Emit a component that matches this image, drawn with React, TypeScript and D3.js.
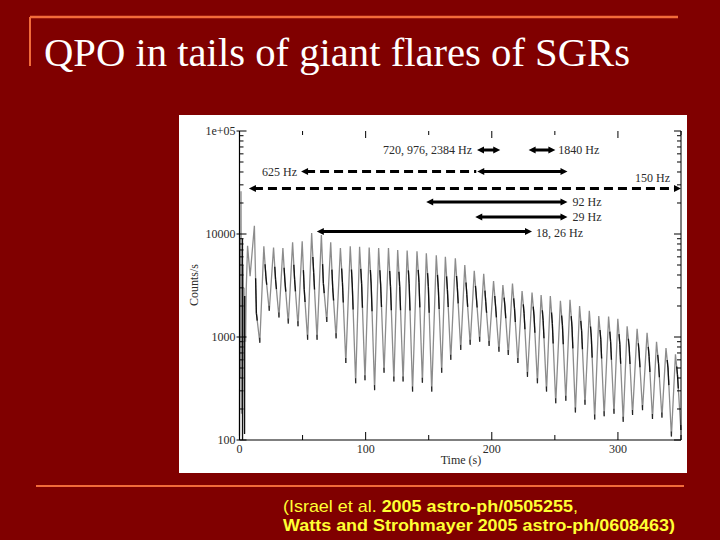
import React from 'react';
import * as d3 from 'd3';

const titleText = 'QPO in tails of giant flares of SGRs';
const citeLine1Regular = '(Israel et al. ';
const citeLine1Bold = '2005 astro-ph/0505255';
const citeLine1Tail = ',';
const citeLine2 = 'Watts and Strohmayer 2005 astro-ph/0608463)';

const yTickValues = [100, 1000, 10000, 100000];
const yTickLabels = ['100', '1000', '10000', '1e+05'];
const xTickValues = [0, 100, 200, 300];
const xTickLabels = ['0', '100', '200', '300'];
const xMinorTicks = [50, 150, 250, 350];
const xTitle = 'Time (s)';
const yTitle = 'Counts/s';

// initial spike region (t < 10 s)
const flareTimes = [0, 0.4, 0.8, 1.2, 1.6, 2.0, 2.4, 2.8, 3.2, 3.6, 4.0, 4.4, 4.8, 5.3, 6.4, 8.4];
const flareCounts = [110, 9000, 400, 26000, 180, 7000, 102, 5000, 600, 3000, 115, 2500, 900, 2800, 7700, 3900];

// pulse peaks
const peakTimes = [11.8, 19.3, 27.0, 34.4, 42.1, 49.7, 57.2, 64.9, 72.3, 80.0, 87.8, 95.2, 102.8, 110.3, 118.1,
  125.4, 132.9, 140.7, 148.1, 156.0, 163.2, 171.1, 178.6, 186.1, 193.6, 201.4, 208.8, 216.4, 224.0, 231.9,
  239.1, 246.4, 254.4, 262.0, 269.6, 277.3, 284.8, 292.6, 299.9, 307.3, 315.2, 323.1, 330.6, 338.1, 345.6];
const peakCounts = [12000, 7600, 7400, 7300, 8300, 8500, 10200, 9800, 8300, 7300, 7600, 7500, 7400, 7300, 7300,
  7000, 6900, 6800, 6500, 6200, 6000, 5800, 5000, 4400, 4100, 3500, 3200, 3300, 2800, 2700,
  2550, 2500, 2250, 2300, 2000, 1800, 1600, 1580, 1500, 1270, 1200, 1100, 900, 780, 680];

// shoulders after each peak
const shoulderTimes = [13.4, 20.9, 28.6, 36.0, 43.7, 51.3, 58.8, 66.5, 73.9, 81.6, 89.4, 96.8, 104.4, 111.9, 119.7,
  127.0, 134.5, 142.3, 149.7, 157.6, 164.8, 172.7, 180.2, 187.7, 195.2, 203.0, 210.4, 218.0, 225.6, 233.5,
  240.7, 248.0, 256.0, 263.6, 271.2, 278.9, 286.4, 294.2, 301.5, 308.9, 316.8, 324.7, 332.2, 339.7, 347.2];
const shoulderCounts = [1700, 3900, 3600, 3500, 3600, 2900, 4200, 3300, 3000, 3400, 3200, 3300, 3200, 3200, 3100,
  3100, 3300, 3400, 3100, 3000, 2900, 3000, 2600, 2500, 2200, 2000, 2000, 1900, 1700, 1600,
  1450, 1350, 1300, 1250, 1150, 1000, 950, 900, 850, 800, 700, 650, 550, 500, 430];

// troughs between pulses
const troughTimes = [16.1, 23.6, 31.3, 38.7, 46.4, 54.0, 61.5, 69.2, 76.6, 84.3, 92.1, 99.5, 107.1, 114.6, 122.4,
  129.7, 137.2, 145.0, 152.4, 160.3, 167.5, 175.4, 182.9, 190.4, 197.9, 205.7, 213.1, 220.7, 228.3, 236.2,
  243.4, 250.7, 258.7, 266.3, 273.9, 281.6, 289.1, 296.9, 304.2, 311.6, 319.5, 327.4, 334.9, 342.4, 349.9];
const troughCounts = [880, 1800, 1550, 1350, 1270, 940, 940, 1400, 970, 560, 355, 380, 305, 450, 370,
  370, 295, 360, 295, 450, 600, 750, 840, 900, 820, 720, 670, 560, 410, 355,
  295, 227, 240, 185, 220, 158, 170, 180, 150, 175, 195, 160, 165, 108, 125];

// QPO detection intervals (s)
const qpoLabels = ['720, 976, 2384 Hz', '1840 Hz', '625 Hz', '625 Hz b', '150 Hz', '92 Hz', '29 Hz', '18, 26 Hz'];
const qpoStart = [188.3, 229.2, 48.8, 188.5, 7.5, 148.0, 186.9, 61.3];
const qpoEnd = [206.7, 250.4, 187.7, 260.0, 350.0, 260.0, 260.0, 231.9];

const x = d3.scaleLinear().domain([0, 350]).range([239.5, 681]);
const y = d3.scaleLog().domain([100, 1e5]).range([440, 131]);

function buildSeries(): [number, number][] {
  const pts: [number, number][] = [];
  flareTimes.forEach((t, i) => pts.push([t, flareCounts[i]]));
  peakTimes.forEach((t, i) => {
    pts.push([t, peakCounts[i]]);
    pts.push([shoulderTimes[i], shoulderCounts[i]]);
    pts.push([troughTimes[i], troughCounts[i]]);
  });
  return pts;
}

const FONT_SERIF = '"Liberation Serif", "DejaVu Serif", serif';
const FONT_SANS = '"Liberation Sans", Arial, sans-serif';
const TXT = '#2b2b2b';

function Head({ px, py, dir }: { px: number; py: number; dir: number }) {
  const L = 7, h = 3.6;
  const pts = `${px},${py} ${px - dir * L},${py - h} ${px - dir * L},${py + h}`;
  return <polygon points={pts} fill="#000" />;
}

function Arrow({ i, row, dashed, left = true, right = true }: { i: number; row: number; dashed?: boolean; left?: boolean; right?: boolean }) {
  const x1 = x(qpoStart[i]);
  const x2 = x(qpoEnd[i]);
  return (
    <g>
      <line x1={x1 + (left ? 5 : 0)} x2={x2 - (right ? 5 : 0)} y1={row} y2={row} stroke="#000" strokeWidth={3}
        strokeDasharray={dashed ? '9 5' : undefined} />
      {left && <Head px={x1} py={row} dir={-1} />}
      {right && <Head px={x2} py={row} dir={1} />}
    </g>
  );
}

export default function App() {
  const series = buildSeries();
  const line = d3.line<[number, number]>().x(d => x(d[0])).y(d => y(d[1]));
  const minorY: number[] = [];
  for (let dec = 100; dec < 1e5; dec *= 10) {
    for (let m = 2; m <= 9; m++) minorY.push(dec * m);
  }
  const xL = x(0), xR = x(350), yB = y(100), yT = y(1e5);

  return (
    <svg width={720} height={540} style={{ position: 'absolute', left: 0, top: 0, display: 'block' }}>
      <rect x={0} y={0} width={720} height={540} fill="#800000" />
      <line x1={30} y1={17} x2={678} y2={17} stroke="#f26b3a" strokeWidth={2.5} />
      <line x1={30} y1={17} x2={30} y2={66} stroke="#f26b3a" strokeWidth={2} />
      <text x={44} y={66} fill="#ffffff" fontFamily={FONT_SERIF} fontSize={40} textLength={586} lengthAdjust="spacingAndGlyphs">{titleText}</text>

      <rect x={179} y={115} width={508} height={358} fill="#ffffff" />

      {/* light curve */}
      <path d={line(series) || ''} fill="none" stroke="#8c8c8c" strokeWidth={1.3} strokeLinejoin="miter" />
      {peakTimes.map((t, i) => {
        const sx = x(shoulderTimes[i]), sy = y(shoulderCounts[i]);
        const px = x(t), py = y(peakCounts[i]);
        const tx = x(troughTimes[i]), ty = y(troughCounts[i]);
        return (
          <g key={'m' + i}>
            <line x1={px + (sx - px) * 0.6} y1={py + (sy - py) * 0.6} x2={sx} y2={sy} stroke="#111" strokeWidth={1.3} />
            <line x1={sx} y1={sy} x2={sx + (tx - sx) * 0.25} y2={sy + (ty - sy) * 0.25} stroke="#111" strokeWidth={1.3} />
            <line x1={tx + (px - tx) * 0.02} y1={ty - 5} x2={tx} y2={ty} stroke="#222" strokeWidth={1.1} />
          </g>
        );
      })}
      <line x1={x(2.4)} x2={x(2.4)} y1={y(9000)} y2={yB} stroke="#111" strokeWidth={1.2} />
      <line x1={x(4.0)} x2={x(4.0)} y1={y(2500)} y2={yB - 6} stroke="#111" strokeWidth={1.2} />

      {/* axes */}
      <line x1={xL} x2={xL} y1={yT} y2={yB} stroke="#000" strokeWidth={1.2} />
      <line x1={xR} x2={xR} y1={yT} y2={yB} stroke="#000" strokeWidth={1} />
      <line x1={xL} x2={xR} y1={yB} y2={yB} stroke="#000" strokeWidth={1.2} />
      {yTickValues.map((v, i) => (
        <g key={'yt' + i}>
          <line x1={xL - 3} x2={xL + 7} y1={y(v)} y2={y(v)} stroke="#000" strokeWidth={1} />
          <line x1={xR - 7} x2={xR} y1={y(v)} y2={y(v)} stroke="#000" strokeWidth={1} />
          <text x={xL - 4} y={y(v)} dy="0.35em" textAnchor="end" fontFamily={FONT_SERIF} fontSize={12} fill={TXT}>{yTickLabels[i]}</text>
        </g>
      ))}
      {minorY.map((v, i) => (
        <g key={'ym' + i}>
          <line x1={xL} x2={xL + 4} y1={y(v)} y2={y(v)} stroke="#000" strokeWidth={1} />
          <line x1={xR - 4} x2={xR} y1={y(v)} y2={y(v)} stroke="#000" strokeWidth={1} />
        </g>
      ))}
      {xTickValues.map((v, i) => (
        <g key={'xt' + i}>
          <line x1={x(v)} x2={x(v)} y1={yB} y2={yB - 8} stroke="#000" strokeWidth={1} />
          <line x1={x(v)} x2={x(v)} y1={yT} y2={yT + 7} stroke="#000" strokeWidth={1} />
          <text x={x(v)} y={453} textAnchor="middle" fontFamily={FONT_SERIF} fontSize={12} fill={TXT}>{xTickLabels[i]}</text>
        </g>
      ))}
      {xMinorTicks.map((v, i) => (
        <g key={'xm' + i}>
          <line x1={x(v)} x2={x(v)} y1={yB} y2={yB - 5} stroke="#000" strokeWidth={1} />
          <line x1={x(v)} x2={x(v)} y1={yT} y2={yT + 4} stroke="#000" strokeWidth={1} />
        </g>
      ))}
      <text x={461} y={464} textAnchor="middle" fontFamily={FONT_SERIF} fontSize={12} fill={TXT}>{xTitle}</text>
      <text transform="translate(198,285) rotate(-90)" textAnchor="middle" fontFamily={FONT_SERIF} fontSize={12} fill={TXT}>{yTitle}</text>

      {/* QPO arrows */}
      <Arrow i={0} row={150} />
      <text x={x(qpoStart[0]) - 5} y={150} dy="0.35em" textAnchor="end" fontFamily={FONT_SERIF} fontSize={12} fill={TXT}>{qpoLabels[0]}</text>
      <Arrow i={1} row={150} />
      <text x={x(qpoEnd[1]) + 3} y={150} dy="0.35em" fontFamily={FONT_SERIF} fontSize={12} fill={TXT}>{qpoLabels[1]}</text>
      <Arrow i={2} row={171.5} dashed right={false} />
      <text x={x(qpoStart[2]) - 4} y={171.5} dy="0.35em" textAnchor="end" fontFamily={FONT_SERIF} fontSize={12} fill={TXT}>{qpoLabels[2]}</text>
      <Arrow i={3} row={171.5} />
      <Arrow i={4} row={188.5} dashed />
      <text x={670} y={178} dy="0.35em" textAnchor="end" fontFamily={FONT_SERIF} fontSize={12} fill={TXT}>{qpoLabels[4]}</text>
      <Arrow i={5} row={202} />
      <text x={x(qpoEnd[5]) + 5} y={202} dy="0.35em" fontFamily={FONT_SERIF} fontSize={12} fill={TXT}>{qpoLabels[5]}</text>
      <Arrow i={6} row={217} />
      <text x={x(qpoEnd[6]) + 5} y={217} dy="0.35em" fontFamily={FONT_SERIF} fontSize={12} fill={TXT}>{qpoLabels[6]}</text>
      <Arrow i={7} row={231.5} />
      <text x={x(qpoEnd[7]) + 4} y={233} dy="0.35em" fontFamily={FONT_SERIF} fontSize={12} fill={TXT}>{qpoLabels[7]}</text>

      <line x1={36} y1={486} x2={684} y2={486} stroke="#f26b3a" strokeWidth={2.2} />
      <text x={283} y={512} fill="#ffff33" fontFamily={FONT_SANS} fontSize={17} textLength={295} lengthAdjust="spacingAndGlyphs">
        <tspan fontWeight="normal">{citeLine1Regular}</tspan>
        <tspan fontWeight="bold">{citeLine1Bold}</tspan>
        <tspan fontWeight="normal">{citeLine1Tail}</tspan>
      </text>
      <text x={283} y={531} fill="#ffff33" fontFamily={FONT_SANS} fontSize={17} fontWeight="bold" textLength={392} lengthAdjust="spacingAndGlyphs">{citeLine2}</text>
    </svg>
  );
}
